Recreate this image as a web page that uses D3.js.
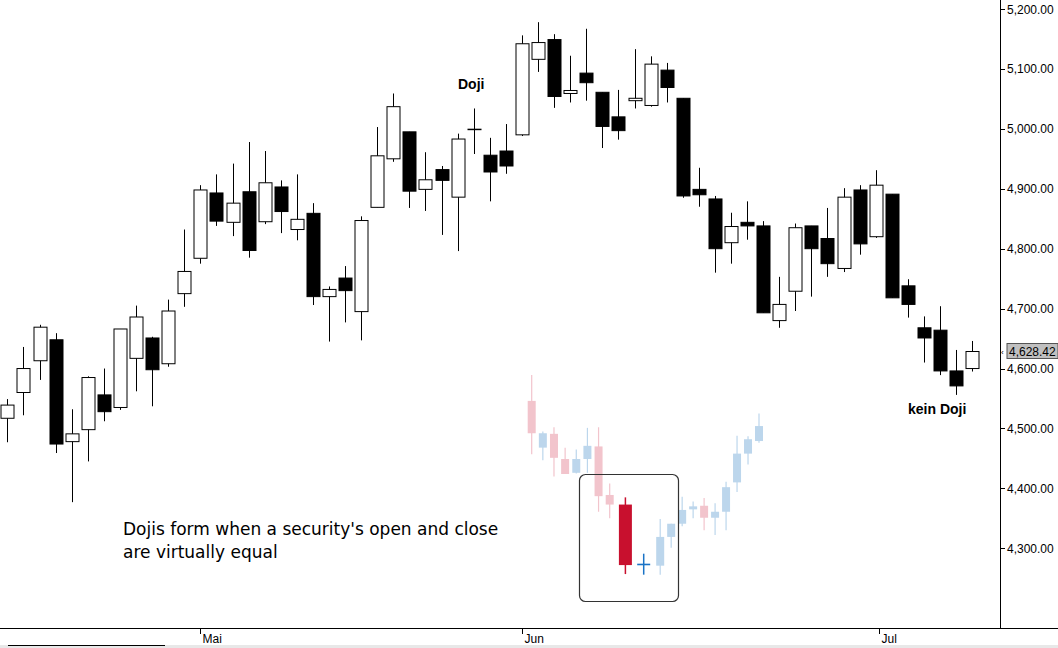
<!DOCTYPE html>
<html>
<head>
<meta charset="utf-8">
<script src="https://cdn.jsdelivr.net/npm/d3@7"></script>
<style>
  body { margin: 0; background: #fff; }
  svg { display: block; font-family: "Liberation Sans", Arial, sans-serif; }
</style>
</head>
<body>
<svg id="chart" width="1058" height="648"></svg>
<script>
// main series: [open, high, low, close]
const mainOHLC = [
  [4517,4549,4477,4539],[4560,4636,4522,4600],[4613,4673,4581,4669],[4648,4659,4459,4474],
  [4478,4532,4377,4491],[4498,4587,4445,4585],[4556,4600,4512,4528],[4535,4666,4531,4666],
  [4617,4705,4562,4686],[4651,4653,4537,4598],[4608,4715,4603,4696],[4725,4832,4703,4762],
  [4784,4906,4775,4898],[4893,4924,4838,4846],[4844,4942,4821,4876],[4895,4978,4785,4797],
  [4845,4963,4841,4910],[4903,4914,4826,4862],[4832,4924,4814,4849],[4859,4876,4706,4720],
  [4720,4737,4645,4732],[4751,4771,4677,4730],[4695,4854,4647,4847],[4869,5003,4869,4955],
  [4950,5059,4945,5037],[4995,4995,4868,4896],[4899,4961,4863,4915],[4932,4938,4823,4914],
  [4886,4992,4796,4983],[4999,5034,4958,4999],[4956,4985,4879,4928],[4963,5008,4925,4938],
  [4990,5156,4988,5142],[5116,5178,5095,5144],[5149,5158,5035,5054],[5059,5122,5044,5064],
  [5093,5167,5047,5077],[5061,5061,4968,5004],[5020,5065,4982,4997],[5047,5133,5034,5051],
  [5039,5121,5037,5108],[5098,5110,5044,5069],[5051,5051,4885,4888],[4899,4935,4870,4890],
  [4883,4888,4760,4800],[4810,4860,4775,4837],[4844,4879,4815,4838],[4838,4846,4693,4693],
  [4680,4753,4668,4707],[4729,4842,4696,4835],[4838,4838,4720,4800],[4817,4868,4753,4775],
  [4767,4901,4761,4886],[4898,4906,4790,4808],[4820,4931,4818,4906],[4891,4891,4718,4718],
  [4738,4749,4685,4707],[4668,4687,4610,4651],[4664,4704,4589,4596],[4596,4631,4556,4571],
  [4600,4646,4595,4628.42]
];
const dojiIndex = 29;

// illustration series (faded), [open, high, low, close]
const insetOHLC = [
  [4546,4589,4457,4492],[4468,4495,4447,4492],[4491,4502,4420,4451],[4449,4468,4424,4424],
  [4426,4465,4425,4449],[4449,4501,4426,4471],[4470,4502,4361,4387],[4389,4408,4350,4373],
  [4373,4385,4257,4272],[4273,4291,4256,4273],[4271,4349,4256,4319],[4319,4341,4301,4341],
  [4341,4386,4337,4364],[4365,4378,4350,4370],[4371,4384,4330,4351],[4351,4375,4322,4361],
  [4361,4411,4330,4402],[4410,4488,4394,4458],[4458,4487,4440,4482],[4479,4525,4476,4504]
];
const insetHighlight = [8, 9];

const priceTicks = [4300, 4400, 4500, 4600, 4700, 4800, 4900, 5000, 5100, 5200];
const monthTicks = [12, 32, 54.2];
const monthLabels = ["Mai", "Jun", "Jul"];
const lastPrice = 4628.42;

const svg = d3.select("#chart");
const axisX = 1000, axisY = 628;

const y = d3.scaleLinear().domain([4300, 5200]).range([548.3, 9]);
const x = d3.scaleLinear().domain([0, 60]).range([7.4, 972.2]);
// highlighted candles in the illustration are spread wider apart
const xi = d3.scaleLinear().domain([0, 7, 8, 9, 10, 19]).range([531.7, 609.7, 625.4, 643.7, 660.2, 759]);
const fmt = d3.format(",.2f");

// ----------------------------
// INSET (faded)
// ----------------------------
const inset = svg.append("g");
insetOHLC.forEach((d, i) => {
  const [o, h, l, c] = d;
  const hl = insetHighlight.includes(i);
  const up = c >= o;
  const col = hl ? (up ? "#1a73c6" : "#c8102e") : (up ? "#bcd6ec" : "#f2c4cc");
  const w = hl ? 13 : 8;
  inset.append("line")
    .attr("x1", xi(i)).attr("x2", xi(i))
    .attr("y1", y(h)).attr("y2", y(l))
    .attr("stroke", col).attr("stroke-width", hl ? 1.5 : 1.2);
  if (o === c) {
    inset.append("line")
      .attr("x1", xi(i) - w / 2).attr("x2", xi(i) + w / 2)
      .attr("y1", y(o)).attr("y2", y(o))
      .attr("stroke", col).attr("stroke-width", 1.6);
  } else {
    inset.append("rect")
      .attr("x", xi(i) - w / 2).attr("width", w)
      .attr("y", y(Math.max(o, c)))
      .attr("height", Math.abs(y(o) - y(c)))
      .attr("fill", col);
  }
});
inset.append("rect")
  .attr("x", 579.5).attr("y", 474.5).attr("width", 99).attr("height", 127)
  .attr("rx", 6).attr("fill", "none").attr("stroke", "#333").attr("stroke-width", 1.2);

// ----------------------------
// MAIN CANDLES
// ----------------------------
const main = svg.append("g");
mainOHLC.forEach((d, i) => {
  const [o, h, l, c] = d;
  const cx = Math.round(x(i)) + 0.5;
  main.append("line")
    .attr("x1", cx).attr("x2", cx)
    .attr("y1", y(h)).attr("y2", y(l))
    .attr("stroke", "#000").attr("stroke-width", 1);
  if (i === dojiIndex) {
    main.append("line")
      .attr("x1", cx - 7).attr("x2", cx + 7)
      .attr("y1", y(o)).attr("y2", y(o))
      .attr("stroke", "#000").attr("stroke-width", 1.5);
    return;
  }
  const up = c >= o;
  main.append("rect")
    .attr("x", cx - 6.5).attr("width", 13)
    .attr("y", y(Math.max(o, c)))
    .attr("height", Math.max(2, Math.abs(y(o) - y(c))))
    .attr("fill", up ? "#fff" : "#000")
    .attr("stroke", "#000").attr("stroke-width", 1);
});

// ----------------------------
// AXES
// ----------------------------
svg.append("line").attr("x1", axisX + 0.5).attr("x2", axisX + 0.5)
  .attr("y1", 0).attr("y2", axisY).attr("stroke", "#000");
svg.append("line").attr("x1", 0).attr("x2", 1058)
  .attr("y1", axisY + 0.5).attr("y2", axisY + 0.5).attr("stroke", "#000");

const ya = svg.append("g");
priceTicks.forEach(v => {
  ya.append("line").attr("x1", axisX).attr("x2", axisX + 5)
    .attr("y1", Math.round(y(v)) + 0.5).attr("y2", Math.round(y(v)) + 0.5).attr("stroke", "#000");
  ya.append("text").attr("x", axisX + 7).attr("y", y(v) + 4.5)
    .attr("font-size", 12).attr("fill", "#000").text(fmt(v));
});

// last price tag
ya.append("rect").attr("x", 1007).attr("y", y(lastPrice) - 8).attr("width", 51).attr("height", 15)
  .attr("fill", "#c0c0c0").attr("stroke", "#555");
ya.append("text").attr("x", 1009).attr("y", y(lastPrice) + 4.5)
  .attr("font-size", 12).text(fmt(lastPrice));
ya.append("text").attr("x", 1001).attr("y", y(lastPrice) + 3.5)
  .attr("font-size", 8).text("‹");

const xa = svg.append("g");
monthTicks.forEach((m, k) => {
  const px = Math.round(x(m)) + 0.5;
  xa.append("line").attr("x1", px).attr("x2", px)
    .attr("y1", axisY).attr("y2", axisY + 6).attr("stroke", "#000");
  xa.append("text").attr("x", px + 2).attr("y", axisY + 15)
    .attr("font-size", 12).text(monthLabels[k]);
});

// bottom strip
svg.append("rect").attr("x", 0).attr("y", 645).attr("width", 1058).attr("height", 3).attr("fill", "#e8e8e8");
svg.append("line").attr("x1", 8).attr("x2", 165).attr("y1", 645.5).attr("y2", 645.5).attr("stroke", "#000");

// ----------------------------
// ANNOTATIONS
// ----------------------------
svg.append("text").attr("x", 458).attr("y", 89)
  .attr("font-size", 14).attr("font-weight", "bold").text("Doji");
svg.append("text").attr("x", 908).attr("y", 414)
  .attr("font-size", 14).attr("font-weight", "bold").text("kein Doji");
svg.append("text").attr("x", 123).attr("y", 535)
  .attr("font-family", "DejaVu Sans, sans-serif").attr("font-size", 17)
  .text("Dojis form when a security's open and close");
svg.append("text").attr("x", 123).attr("y", 558)
  .attr("font-family", "DejaVu Sans, sans-serif").attr("font-size", 17)
  .text("are virtually equal");
</script>
</body>
</html>
